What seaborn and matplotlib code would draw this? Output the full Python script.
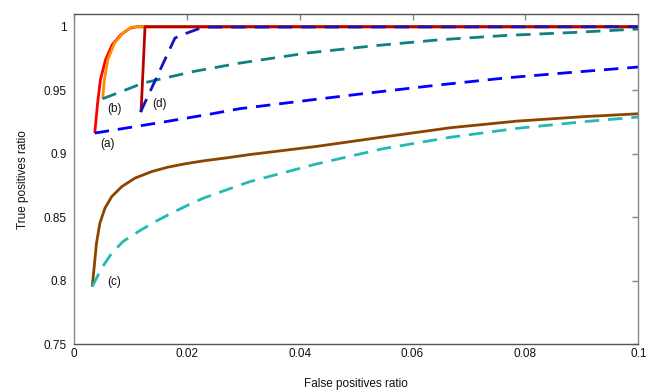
import numpy as np
import pandas as pd
import matplotlib
matplotlib.use("Agg")
import matplotlib.pyplot as plt
import seaborn as sns

# ---- data ----
red_a_x = [0.0037, 0.0042, 0.0047, 0.0056, 0.0068, 0.0083, 0.0100, 0.0112, 0.1]
red_a_y = [0.9163, 0.9400, 0.9583, 0.9740, 0.9859, 0.9937, 0.9990, 1.0, 1.0]

orange_b_x = [0.0051, 0.0054, 0.0060, 0.0072, 0.0087, 0.0102, 0.0113, 0.1]
orange_b_y = [0.9433, 0.9583, 0.9740, 0.9872, 0.9951, 0.9997, 1.0, 1.0]

darkred_d_x = [0.0119, 0.0126, 0.1]
darkred_d_y = [0.9328, 1.0, 1.0]

blue_d_x = [0.0118, 0.0179, 0.0200, 0.0229, 0.1]
blue_d_y = [0.9328, 0.9911, 0.9950, 0.9997, 1.0]

teal_b_x = [0.0051, 0.0123, 0.0212, 0.0294, 0.0413, 0.0531, 0.0649, 0.0767,
            0.0885, 0.1]
teal_b_y = [0.9433, 0.9557, 0.9648, 0.9714, 0.9793, 0.9850, 0.9898, 0.9932,
            0.9955, 0.9982]

blue_a_x = [0.0037, 0.0152, 0.0241, 0.0294, 0.0413, 0.0531, 0.0649, 0.0767,
            0.0885, 0.1]
blue_a_y = [0.9163, 0.9245, 0.9312, 0.9355, 0.9420, 0.9483, 0.9543, 0.9598,
            0.9642, 0.9683]

brown_c_x = [0.00325, 0.0036, 0.0040, 0.0046, 0.0055, 0.0067, 0.0085, 0.0108,
             0.0138, 0.0167, 0.0197, 0.0229, 0.0271, 0.0312, 0.0430, 0.0548,
             0.0667, 0.0785, 0.0902, 0.1]
brown_c_y = [0.7954, 0.8111, 0.8296, 0.8453, 0.8572, 0.8663, 0.8742, 0.8808,
             0.8860, 0.8895, 0.8921, 0.8944, 0.8968, 0.8994, 0.9058, 0.9132,
             0.9205, 0.9257, 0.9292, 0.9315]

cyan_c_x = [0.00325, 0.0049, 0.0067, 0.0087, 0.0114, 0.0144, 0.0173, 0.0203,
            0.0229, 0.0271, 0.0312, 0.0430, 0.0548, 0.0667, 0.0785, 0.0902, 0.1]
cyan_c_y = [0.7954, 0.8099, 0.8217, 0.8309, 0.8387, 0.8466, 0.8532, 0.8598,
            0.8650, 0.8717, 0.8781, 0.8920, 0.9040, 0.9130, 0.9200, 0.9252,
            0.9289]

label_texts = ["(a)", "(b)", "(c)", "(d)"]
label_x = [0.0060, 0.0072, 0.0071, 0.01525]
label_y = [0.9078, 0.9352, 0.7990, 0.9390]

x_ticks = [0, 0.02, 0.04, 0.06, 0.08, 0.1]
x_tick_labels = ["0", "0.02", "0.04", "0.06", "0.08", "0.1"]
y_ticks = [0.75, 0.8, 0.85, 0.9, 0.95, 1.0]
y_tick_labels = ["0.75", "0.8", "0.85", "0.9", "0.95", "1"]

# ---- styling ----
sns.set_style("white")
plt.rcParams["font.family"] = ["Liberation Sans", "DejaVu Sans"]

fig = plt.figure(figsize=(6.54, 3.92), dpi=100)
ax = fig.add_axes([0.113, 0.1217, 0.863, 0.8418])

lw = 2.0
dash = (2.6, 1.6)
fs = 8.5

series = [
    (red_a_x, red_a_y, "#ff0000", "-"),
    (orange_b_x, orange_b_y, "#ff8c00", "-"),
    (teal_b_x, teal_b_y, "#108080", "--"),
    (blue_a_x, blue_a_y, "#0000ff", "--"),
    (darkred_d_x, darkred_d_y, "#b80000", "-"),
    (blue_d_x, blue_d_y, "#1414b8", "--"),
    (brown_c_x, brown_c_y, "#8b4500", "-"),
    (cyan_c_x, cyan_c_y, "#22bbb3", "--"),
]

for xs, ys, col, ls in series:
    df = pd.DataFrame({"x": xs, "y": ys})
    line_ax = sns.lineplot(data=df, x="x", y="y", ax=ax, color=col, lw=lw,
                           sort=False, estimator=None)
    ln = line_ax.get_lines()[-1]
    if ls == "--":
        ln.set_dashes([dash[0] * lw, dash[1] * lw])
    ln.set_solid_capstyle("butt")
    ln.set_solid_joinstyle("round")

for t, tx, ty in zip(label_texts, label_x, label_y):
    ax.text(tx, ty, t, fontsize=fs, ha="center", va="center", color="#111111")

ax.set_xlim(0, 0.1)
ax.set_ylim(0.75, 1.0098)
ax.set_xticks(x_ticks)
ax.set_xticklabels(x_tick_labels)
ax.set_yticks(y_ticks)
ax.set_yticklabels(y_tick_labels)
ax.tick_params(direction="in", length=4, width=1, colors="#888888",
               labelcolor="#111111", labelsize=fs, top=True, right=True)
ax.tick_params(axis="x", pad=2.5)
ax.tick_params(axis="y", pad=5)
ax.set_xlabel("False positives ratio", fontsize=fs, color="#111111", labelpad=13)
ax.set_ylabel("True positives ratio", fontsize=fs, color="#111111", labelpad=11)

for side in ["left", "right"]:
    ax.spines[side].set_color("#888888")
    ax.spines[side].set_linewidth(1.0)
for side in ["top", "bottom"]:
    ax.spines[side].set_color("#555555")
    ax.spines[side].set_linewidth(1.0)

fig.savefig("out.png", dpi=100)
